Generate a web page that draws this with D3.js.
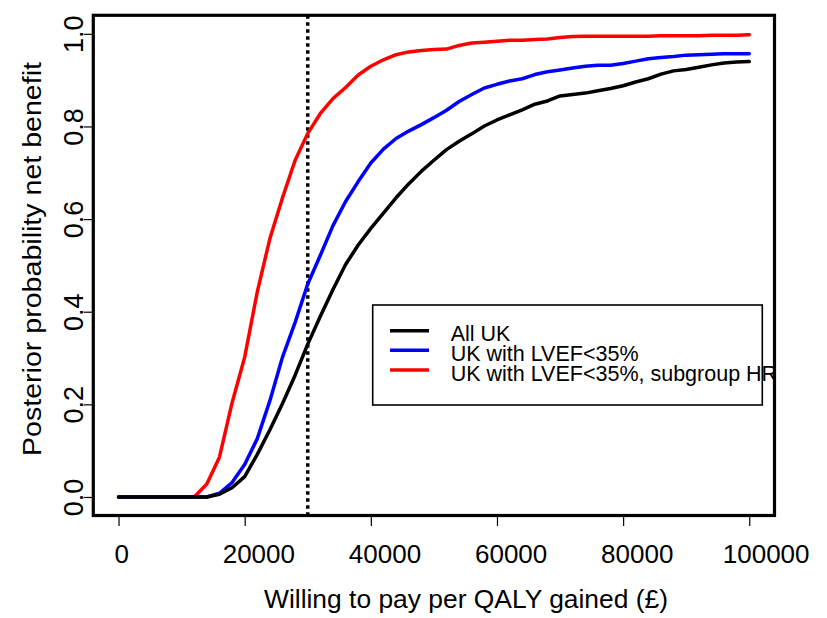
<!DOCTYPE html>
<html>
<head>
<meta charset="utf-8">
<script src="https://cdn.jsdelivr.net/npm/d3@7"></script>
<style>
  body { margin: 0; background: #fff; }
  svg { display: block; font-family: "Liberation Sans", Arial, sans-serif; }
  .axis text { fill: #000; }
  .x-axis text { font-size: 26px; }
  .y-axis text { font-size: 27px; }
  .axis line { stroke: #000; stroke-width: 1.2; }
  .axis-title { font-size: 26.5px; fill: #000; }
  .legend text { font-size: 21.5px; fill: #000; }
</style>
</head>
<body>
<svg id="chart"></svg>
<script>
// willingness-to-pay grid (GBP per QALY)
const wtp = [0, 10000, 12000, 14000, 16000, 18000, 20000, 22000, 24000, 26000, 28000,
  30000, 32000, 34000, 36000, 38000, 40000, 42000, 44000, 46000, 48000, 50000,
  52000, 54000, 56000, 58000, 60000, 62000, 64000, 66000, 68000, 70000, 72000,
  74000, 76000, 78000, 80000, 82000, 84000, 86000, 88000, 90000, 92000, 94000,
  96000, 98000, 100000];

const allUK = [0, 0, 0, 0, 0.006, 0.020, 0.044, 0.092, 0.145, 0.202, 0.263,
  0.330, 0.390, 0.448, 0.502, 0.544, 0.580, 0.613, 0.646, 0.676, 0.703, 0.727,
  0.750, 0.768, 0.784, 0.801, 0.814, 0.825, 0.836, 0.848, 0.855, 0.866, 0.869,
  0.872, 0.877, 0.882, 0.888, 0.896, 0.903, 0.913, 0.920, 0.923, 0.928, 0.933,
  0.937, 0.939, 0.940];

const lvef35 = [0, 0, 0, 0, 0.008, 0.031, 0.070, 0.126, 0.208, 0.302, 0.377,
  0.460, 0.522, 0.586, 0.638, 0.681, 0.721, 0.751, 0.774, 0.790, 0.804, 0.819,
  0.835, 0.854, 0.869, 0.883, 0.891, 0.898, 0.903, 0.912, 0.918, 0.922, 0.926,
  0.930, 0.932, 0.932, 0.936, 0.941, 0.946, 0.949, 0.951, 0.954, 0.955, 0.956,
  0.957, 0.957, 0.957];

const lvef35HR = [0, 0, 0, 0.028, 0.086, 0.203, 0.302, 0.443, 0.558, 0.646, 0.727,
  0.785, 0.828, 0.860, 0.884, 0.911, 0.930, 0.944, 0.955, 0.961, 0.964, 0.966,
  0.967, 0.975, 0.980, 0.982, 0.984, 0.986, 0.986, 0.988, 0.989, 0.992, 0.994,
  0.995, 0.995, 0.995, 0.995, 0.995, 0.995, 0.996, 0.996, 0.996, 0.996, 0.997,
  0.997, 0.997, 0.998];

const seriesNames = ['All UK', 'UK with LVEF<35%', 'UK with LVEF<35%, subgroup HR'];
const seriesColors = ['#000000', '#0000ff', '#ff0000'];
const xTicks = [0, 20000, 40000, 60000, 80000, 100000];
const yTicks = [0, 0.2, 0.4, 0.6, 0.8, 1.0];
const thresholdWtp = 30000;

class CeacChart {

  constructor(_config, _data) {
    this.config = {
      parentElement: _config.parentElement,
      containerWidth: _config.containerWidth || 827,
      containerHeight: _config.containerHeight || 618,
      margin: _config.margin || { top: 15.3, right: 52.5, bottom: 102.5, left: 93.3 }
    }
    this.data = _data;
    this.initVis();
  }

  initVis() {
    let vis = this;

    vis.width = vis.config.containerWidth - vis.config.margin.left - vis.config.margin.right;
    vis.height = vis.config.containerHeight - vis.config.margin.top - vis.config.margin.bottom;

    // R style: axis range padded by 4% on each side
    vis.xScale = d3.scaleLinear()
      .domain([-4000, 104000])
      .range([0, vis.width]);

    vis.yScale = d3.scaleLinear()
      .domain([-0.04, 1.04])
      .range([vis.height, 0]);

    vis.xFormat = d3.format('d');

    vis.xAxis = d3.axisBottom(vis.xScale)
      .tickValues(xTicks)
      .tickFormat(vis.xFormat)
      .tickSize(10.5)
      .tickSizeOuter(0);

    vis.yAxis = d3.axisLeft(vis.yScale)
      .tickValues(yTicks)
      .tickFormat(d3.format('.1f'))
      .tickSize(9.5)
      .tickSizeOuter(0);

    vis.svg = d3.select(vis.config.parentElement)
      .attr('width', vis.config.containerWidth)
      .attr('height', vis.config.containerHeight);

    vis.chart = vis.svg.append('g')
      .attr('transform', `translate(${vis.config.margin.left},${vis.config.margin.top})`);

    vis.svg.append('clipPath')
      .attr('id', 'plot-clip')
      .append('rect')
      .attr('width', vis.width)
      .attr('height', vis.height);

    vis.plotArea = vis.chart.append('g')
      .attr('clip-path', 'url(#plot-clip)');

    vis.xAxisG = vis.chart.append('g')
      .attr('class', 'axis x-axis')
      .attr('transform', `translate(0,${vis.height})`);

    vis.yAxisG = vis.chart.append('g')
      .attr('class', 'axis y-axis');

    // axis titles
    vis.svg.append('text')
      .attr('class', 'axis-title')
      .attr('x', 264)
      .attr('y', 608)
      .attr('textLength', 404)
      .attr('lengthAdjust', 'spacingAndGlyphs')
      .text('Willing to pay per QALY gained (£)');

    vis.svg.append('text')
      .attr('class', 'axis-title')
      .attr('transform', 'translate(41,259) rotate(-90)')
      .attr('x', -197)
      .attr('textLength', 394)
      .attr('lengthAdjust', 'spacingAndGlyphs')
      .text('Posterior probability net benefit');
  }

  updateVis() {
    let vis = this;

    vis.series = vis.data.values.map((vals, i) => ({
      name: seriesNames[i],
      color: seriesColors[i],
      points: wtp.map((w, j) => ({ x: w, y: vals[j] }))
    }));

    vis.line = d3.line()
      .x(d => vis.xScale(d.x))
      .y(d => vis.yScale(d.y));

    vis.renderVis();
  }

  renderVis() {
    let vis = this;

    // dotted threshold line
    vis.plotArea.append('line')
      .attr('x1', vis.xScale(thresholdWtp))
      .attr('x2', vis.xScale(thresholdWtp))
      .attr('y1', 0)
      .attr('y2', vis.height)
      .attr('stroke', '#000')
      .attr('stroke-width', 3.5)
      .attr('stroke-dasharray', '3.5,3.5');

    // draw red first, black last (black sits on top)
    vis.plotArea.selectAll('.curve')
      .data(vis.series.slice().reverse())
      .join('path')
      .attr('class', 'curve')
      .attr('d', d => vis.line(d.points))
      .attr('fill', 'none')
      .attr('stroke', d => d.color)
      .attr('stroke-width', 3.5)
      .attr('stroke-linejoin', 'round')
      .attr('stroke-linecap', 'round');

    // legend (clipped to the plot region like R)
    const legend = vis.plotArea.append('g')
      .attr('class', 'legend')
      .attr('transform', `translate(${372.7 - vis.config.margin.left},${305 - vis.config.margin.top})`);

    legend.append('rect')
      .attr('width', 389.6)
      .attr('height', 100)
      .attr('fill', '#fff')
      .attr('stroke', '#000')
      .attr('stroke-width', 1.6);

    const rows = legend.selectAll('.legend-row')
      .data(vis.series)
      .join('g')
      .attr('class', 'legend-row')
      .attr('transform', (d, i) => `translate(0,${25.7 + i * 19.65})`);

    rows.append('line')
      .attr('x1', 17.3)
      .attr('x2', 56.3)
      .attr('stroke', d => d.color)
      .attr('stroke-width', 3.5);

    rows.append('text')
      .attr('x', 78)
      .attr('y', 10.5)
      .text(d => d.name);

    // box around plot
    vis.chart.append('rect')
      .attr('width', vis.width)
      .attr('height', vis.height)
      .attr('fill', 'none')
      .attr('stroke', '#000')
      .attr('stroke-width', 3.2);

    vis.xAxisG.call(vis.xAxis);
    vis.xAxisG.select('.domain').remove();
    // labels sit slightly right of their ticks, as in the original device output
    vis.xAxisG.selectAll('text')
      .attr('y', 29.5)
      .attr('text-anchor', 'start')
      .attr('x', d => -4.5 * vis.xFormat(d).length);

    vis.yAxisG.call(vis.yAxis);
    vis.yAxisG.select('.domain').remove();
    vis.yAxisG.selectAll('text')
      .attr('x', 0)
      .attr('y', -10)
      .attr('dy', null)
      .attr('transform', 'rotate(-90)')
      .attr('text-anchor', 'middle');
  }
}

const chart = new CeacChart({ parentElement: '#chart' }, { values: [allUK, lvef35, lvef35HR] });
chart.updateVis();
</script>
</body>
</html>
